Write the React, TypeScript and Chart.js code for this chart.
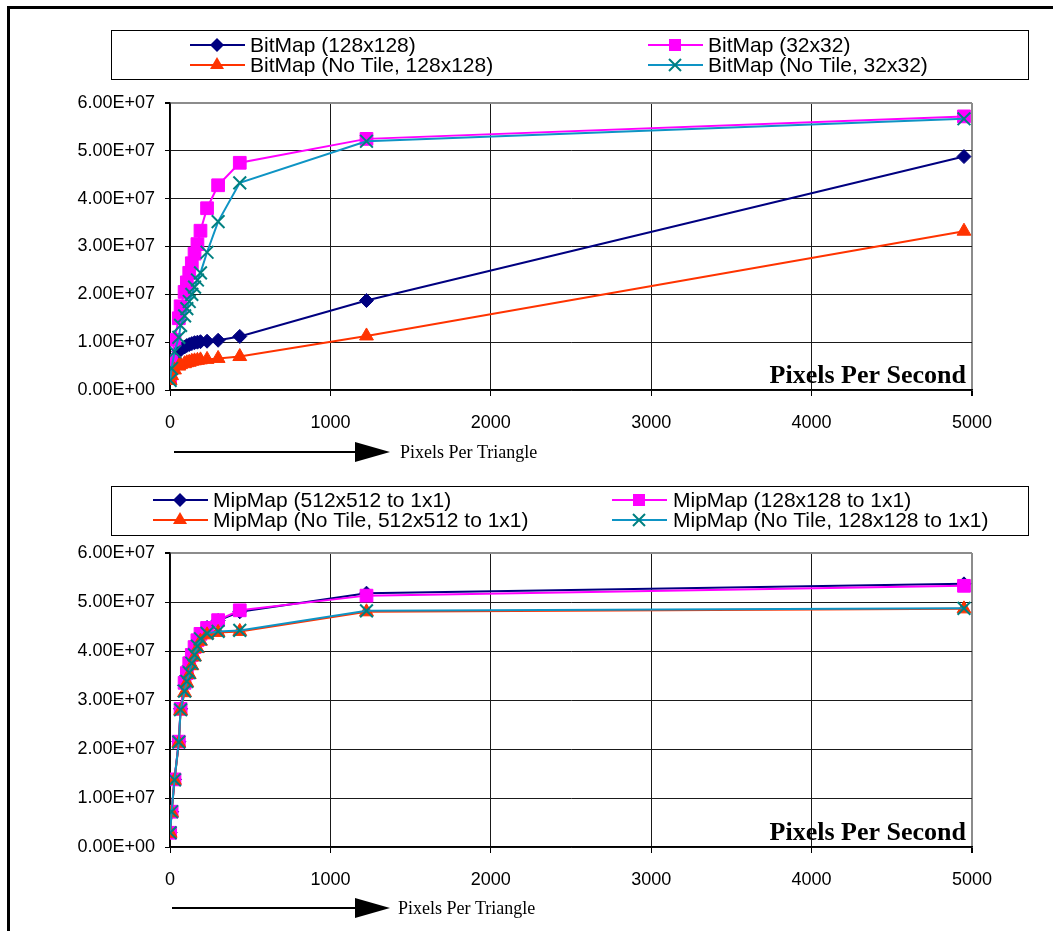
import React, { useEffect, useRef } from 'react';
import { Chart, registerables } from 'chart.js';
Chart.register(...registerables);

// ---------- data ----------
const pixelsPerTriangle = [1, 10, 28, 55, 66, 91, 105, 120, 136, 153, 171, 190, 231, 300, 435, 1225, 4950];

const xTickLabels = ['0', '1000', '2000', '3000', '4000', '5000'];
const yTickLabels = ['0.00E+00', '1.00E+07', '2.00E+07', '3.00E+07', '4.00E+07', '5.00E+07', '6.00E+07'];

const bitmapLabels = ['BitMap (128x128)', 'BitMap (32x32)', 'BitMap (No Tile, 128x128)', 'BitMap (No Tile, 32x32)'];
const bitmap128 = [2.5e6, 4.5e6, 6.5e6, 8.0e6, 8.6e6, 9.0e6, 9.3e6, 9.5e6, 9.7e6, 9.9e6, 1.0e7, 1.01e7, 1.02e7, 1.04e7, 1.12e7, 1.87e7, 4.88e7];
const bitmap32 = [2.5e6, 6.0e6, 1.05e7, 1.5e7, 1.75e7, 2.05e7, 2.25e7, 2.45e7, 2.65e7, 2.85e7, 3.05e7, 3.33e7, 3.8e7, 4.28e7, 4.75e7, 5.25e7, 5.72e7];
const bitmapNoTile128 = [2.0e6, 3.0e6, 4.2e6, 5.0e6, 5.3e6, 5.5e6, 5.7e6, 5.8e6, 6.0e6, 6.1e6, 6.2e6, 6.3e6, 6.4e6, 6.6e6, 7.0e6, 1.13e7, 3.32e7];
const bitmapNoTile32 = [2.0e6, 4.5e6, 8.0e6, 1.1e7, 1.35e7, 1.55e7, 1.7e7, 1.85e7, 2.0e7, 2.15e7, 2.3e7, 2.45e7, 2.88e7, 3.52e7, 4.33e7, 5.2e7, 5.67e7];

const mipmapLabels = ['MipMap (512x512 to 1x1)', 'MipMap (128x128 to 1x1)', 'MipMap (No Tile, 512x512 to 1x1)', 'MipMap (No Tile, 128x128 to 1x1)'];
const mipmap512 = [2.9e6, 7.2e6, 1.38e7, 2.15e7, 2.82e7, 3.3e7, 3.5e7, 3.7e7, 3.88e7, 4.05e7, 4.2e7, 4.3e7, 4.48e7, 4.62e7, 4.8e7, 5.18e7, 5.37e7];
const mipmap128 = [2.9e6, 7.2e6, 1.38e7, 2.15e7, 2.82e7, 3.35e7, 3.55e7, 3.75e7, 3.92e7, 4.08e7, 4.22e7, 4.35e7, 4.47e7, 4.63e7, 4.83e7, 5.13e7, 5.33e7];
const mipmapNoTile512 = [2.8e6, 7.0e6, 1.36e7, 2.12e7, 2.78e7, 3.15e7, 3.35e7, 3.52e7, 3.7e7, 3.88e7, 4.05e7, 4.2e7, 4.33e7, 4.38e7, 4.4e7, 4.8e7, 4.86e7];
const mipmapNoTile128 = [2.9e6, 7.2e6, 1.37e7, 2.14e7, 2.8e7, 3.18e7, 3.38e7, 3.56e7, 3.75e7, 3.92e7, 4.1e7, 4.25e7, 4.36e7, 4.4e7, 4.42e7, 4.82e7, 4.87e7];

const yAxisTitle = 'Pixels Per Second';
const xAxisTitle = 'Pixels Per Triangle';

// ---------- styles ----------
const NAVY = '#000080';
const MAGENTA = '#FF00FF';
const RED = '#FF3300';
const TEAL_LINE = '#0E94C4';
const TEAL_MARK = '#008080';
const SANS = "'Liberation Sans', Arial, sans-serif";
const SERIF = "'Liberation Serif', 'Times New Roman', serif";

const seriesStyles = [
  { line: NAVY, mark: NAVY, style: 'rectRot', radius: 7, order: 4 },
  { line: MAGENTA, mark: MAGENTA, style: 'rect', radius: 9, order: 3 },
  { line: RED, mark: RED, style: 'triangle', radius: 8, order: 2 },
  { line: TEAL_LINE, mark: TEAL_MARK, style: 'crossRot', radius: 9, order: 1 },
];

function drawMarker(ctx: CanvasRenderingContext2D, style: string, x: number, y: number, color: string) {
  ctx.save();
  ctx.fillStyle = color;
  ctx.strokeStyle = color;
  ctx.beginPath();
  if (style === 'rectRot') {
    ctx.moveTo(x - 7, y); ctx.lineTo(x, y - 7); ctx.lineTo(x + 7, y); ctx.lineTo(x, y + 7); ctx.closePath(); ctx.fill();
  } else if (style === 'rect') {
    ctx.rect(x - 6, y - 6, 12, 12); ctx.fill();
  } else if (style === 'triangle') {
    ctx.moveTo(x, y - 8); ctx.lineTo(x + 7, y + 4); ctx.lineTo(x - 7, y + 4); ctx.closePath(); ctx.fill();
  } else {
    ctx.lineWidth = 2;
    ctx.moveTo(x - 6, y - 6); ctx.lineTo(x + 6, y + 6); ctx.moveTo(x + 6, y - 6); ctx.lineTo(x - 6, y + 6); ctx.stroke();
  }
  ctx.restore();
}

const overlayPlugin = {
  id: 'overlay',
  afterDraw(chart: any, _args: any, opts: any) {
    const ctx: CanvasRenderingContext2D = chart.ctx;
    const ca = chart.chartArea;
    ctx.save();
    // legend box
    const b = opts.box;
    ctx.strokeStyle = '#000';
    ctx.lineWidth = 1;
    ctx.strokeRect(b.x + 0.5, b.y + 0.5, b.w, b.h);
    ctx.font = `21px ${SANS}`;
    ctx.textBaseline = 'middle';
    ctx.textAlign = 'left';
    opts.items.forEach((it: any, i: number) => {
      const st = seriesStyles[i];
      ctx.strokeStyle = st.line;
      ctx.lineWidth = 2;
      ctx.beginPath();
      ctx.moveTo(it.x, it.y);
      ctx.lineTo(it.x + 55, it.y);
      ctx.stroke();
      drawMarker(ctx, st.style, it.x + 27, it.y, st.mark);
      ctx.fillStyle = '#000';
      ctx.fillText(opts.labels[i], it.x + it.tx, it.y + 1);
    });
    // y title inside plot
    ctx.font = `bold 26px ${SERIF}`;
    ctx.textAlign = 'right';
    ctx.textBaseline = 'alphabetic';
    ctx.fillStyle = '#000';
    ctx.fillText(yAxisTitle, ca.right - 6, opts.titleY);
    // arrow + x title
    const a = opts.arrow;
    ctx.strokeStyle = '#000';
    ctx.lineWidth = 2;
    ctx.beginPath();
    ctx.moveTo(a.x0, a.y);
    ctx.lineTo(a.x1, a.y);
    ctx.stroke();
    ctx.fillStyle = '#000';
    ctx.beginPath();
    ctx.moveTo(a.x1, a.y - 10);
    ctx.lineTo(a.x1 + 35, a.y);
    ctx.lineTo(a.x1, a.y + 10);
    ctx.closePath();
    ctx.fill();
    ctx.font = `18px ${SERIF}`;
    ctx.textAlign = 'left';
    ctx.textBaseline = 'middle';
    ctx.fillText(xAxisTitle, a.tx, a.y + 1);
    ctx.restore();
  },
};

function makeConfig(labels: string[], series: number[][], height: number, padTop: number, overlay: any) {
  const datasets = series.map((vals, i) => {
    const st = seriesStyles[i];
    return {
      label: labels[i],
      data: pixelsPerTriangle.map((x, j) => ({ x, y: vals[j] })),
      borderColor: st.line,
      backgroundColor: st.mark,
      borderWidth: 2,
      pointStyle: st.style,
      pointRadius: st.radius,
      pointBackgroundColor: st.mark,
      pointBorderColor: st.mark,
      pointBorderWidth: st.style === 'crossRot' ? 2 : 1,
      tension: 0,
      order: st.order,
    };
  });
  const tickFont = { family: SANS, size: 18 };
  return {
    type: 'line',
    data: { datasets },
    options: {
      animation: false,
      responsive: false,
      maintainAspectRatio: false,
      layout: { padding: { top: padTop, right: 81, bottom: 0, left: 0 } },
      plugins: { legend: { display: false }, tooltip: { enabled: false }, overlay },
      scales: {
        x: {
          type: 'linear',
          min: 0,
          max: 5000,
          afterFit: (s: any) => { s.height = height - padTop - (overlay.plotH); },
          ticks: { stepSize: 1000, font: tickFont, color: '#000', padding: 16, maxRotation: 0,
            callback: (_v: any, i: number) => xTickLabels[i] },
          grid: {
            color: (c: any) => (c.tick && c.tick.value === 5000 ? '#8c8c8c' : '#1a1a1a'),
            lineWidth: (c: any) => (c.tick && c.tick.value === 5000 ? 2 : 1),
            tickLength: 6,
            tickColor: '#000',
          },
          border: { color: '#000', width: 1.5 },
        },
        y: {
          min: 0,
          max: 6e7,
          afterFit: (s: any) => { s.width = 170; },
          ticks: { stepSize: 1e7, font: tickFont, color: '#000', padding: 10,
            callback: (_v: any, i: number) => yTickLabels[i] },
          grid: {
            color: (c: any) => (c.tick && c.tick.value === 6e7 ? '#8c8c8c' : '#1a1a1a'),
            lineWidth: (c: any) => (c.tick && c.tick.value === 6e7 ? 2 : 1),
            tickLength: 5,
            tickColor: '#000',
          },
          border: { color: '#000', width: 1.5 },
        },
      },
    },
    plugins: [overlayPlugin],
  };
}

function ChartPanel(props: { top: number; height: number; config: any }) {
  const ref = useRef<HTMLCanvasElement>(null);
  useEffect(() => {
    if (!ref.current) return;
    const chart = new Chart(ref.current, props.config);
    return () => chart.destroy();
  }, []);
  return (
    <canvas
      ref={ref}
      width={1053}
      height={props.height}
      style={{ position: 'absolute', left: 0, top: props.top, width: 1053, height: props.height }}
    />
  );
}

export default function App() {
  const topCfg = makeConfig(
    bitmapLabels,
    [bitmap128, bitmap32, bitmapNoTile128, bitmapNoTile32],
    470,
    103,
    {
      plotH: 287,
      box: { x: 111, y: 30, w: 917, h: 49 },
      items: [
        { x: 190, y: 45, tx: 60 },
        { x: 648, y: 45, tx: 60 },
        { x: 190, y: 65, tx: 60 },
        { x: 648, y: 65, tx: 60 },
      ],
      labels: bitmapLabels,
      titleY: 383,
      arrow: { x0: 174, x1: 355, y: 452, tx: 400 },
    }
  );
  const bottomCfg = makeConfig(
    mipmapLabels,
    [mipmap512, mipmap128, mipmapNoTile512, mipmapNoTile128],
    461,
    83,
    {
      plotH: 294,
      box: { x: 111, y: 16, w: 917, h: 49 },
      items: [
        { x: 153, y: 30, tx: 60 },
        { x: 612, y: 30, tx: 61 },
        { x: 153, y: 50, tx: 60 },
        { x: 612, y: 50, tx: 61 },
      ],
      labels: mipmapLabels,
      titleY: 370,
      arrow: { x0: 172, x1: 355, y: 438, tx: 398 },
    }
  );
  return (
    <div style={{ position: 'absolute', left: 0, top: 0, width: 1053, height: 931, overflow: 'hidden', background: '#fff' }}>
      <ChartPanel top={0} height={470} config={topCfg} />
      <ChartPanel top={470} height={461} config={bottomCfg} />
      <div style={{ position: 'absolute', left: 7, top: 6, width: 3, height: 925, background: '#000' }} />
      <div style={{ position: 'absolute', left: 7, top: 6, width: 1046, height: 3, background: '#000' }} />
    </div>
  );
}
